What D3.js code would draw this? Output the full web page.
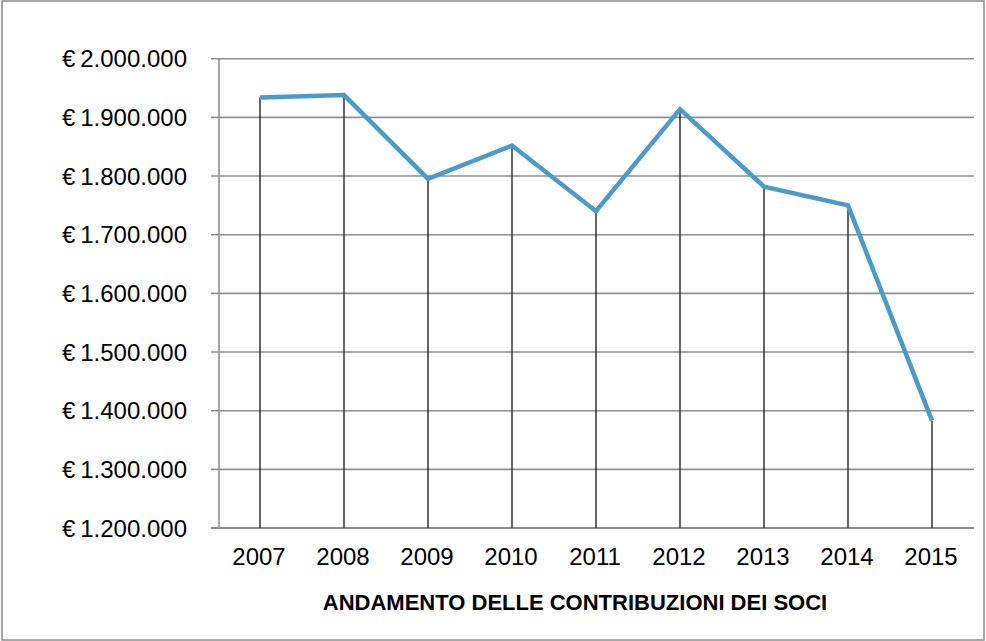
<!DOCTYPE html>
<html>
<head>
<meta charset="utf-8">
<script src="https://cdn.jsdelivr.net/npm/d3@7"></script>
<style>
  html, body { margin: 0; padding: 0; background: #fff; }
  svg { display: block; font-family: 'Liberation Sans', Arial, sans-serif; }
</style>
</head>
<body>
<svg id="chart" width="986" height="641"></svg>
<script>
const years = ['2007', '2008', '2009', '2010', '2011', '2012', '2013', '2014', '2015'];
const contributions = [1934000, 1938000, 1795000, 1852000, 1740000, 1914000, 1782000, 1750000, 1383000];
const yTicks = [1200000, 1300000, 1400000, 1500000, 1600000, 1700000, 1800000, 1900000, 2000000];
const title = 'ANDAMENTO DELLE CONTRIBUZIONI DEI SOCI';

const data = years.map((y, i) => ({ year: y, value: contributions[i] }));

const svg = d3.select('#chart');
const width = 986;
const height = 641;

const margin = { top: 58.7, right: 12, bottom: 113, left: 218 };

const x = d3.scaleBand().domain(years).range([margin.left, width - margin.right]).padding(0);
const y = d3.scaleLinear().domain([1200000, 2000000]).range([height - margin.bottom, margin.top]);

const it = d3.formatLocale({ decimal: ',', thousands: '.', grouping: [3], currency: ['€\u2009', ''] });
const fmt = it.format('$,');

// outer frame
svg.append('rect')
  .attr('x', 2).attr('y', 1)
  .attr('width', width - 4).attr('height', height - 2)
  .attr('fill', 'none')
  .attr('stroke', '#8a8a8a')
  .attr('stroke-width', 1.5);

// gridlines + left ticks
svg.append('g')
  .selectAll('line')
  .data(yTicks)
  .enter()
  .append('line')
  .attr('x1', margin.left - 7)
  .attr('x2', width - margin.right)
  .attr('y1', (d) => y(d))
  .attr('y2', (d) => y(d))
  .attr('stroke', '#8f8f8f')
  .attr('stroke-width', (d) => (d === 1200000 ? 2 : 1.6));

// y axis line
svg.append('line')
  .attr('x1', margin.left + 1).attr('x2', margin.left + 1)
  .attr('y1', y(2000000)).attr('y2', y(1200000))
  .attr('stroke', '#8f8f8f')
  .attr('stroke-width', 1.6);

// y labels
svg.append('g')
  .selectAll('text')
  .data(yTicks)
  .enter()
  .append('text')
  .attr('x', 187)
  .attr('y', (d) => y(d) + 8.6)
  .attr('text-anchor', 'end')
  .attr('font-size', '24px')
  .attr('fill', '#000')
  .text((d) => fmt(d));

// drop lines
svg.append('g')
  .selectAll('line')
  .data(data)
  .enter()
  .append('line')
  .attr('x1', (d) => x(d.year) + x.bandwidth() / 2)
  .attr('x2', (d) => x(d.year) + x.bandwidth() / 2)
  .attr('y1', (d) => y(d.value))
  .attr('y2', y(1200000))
  .attr('stroke', '#111')
  .attr('stroke-width', 1.3);

// series line
const line = d3.line()
  .x((d) => x(d.year) + x.bandwidth() / 2)
  .y((d) => y(d.value));

svg.append('path')
  .datum(data)
  .attr('d', line)
  .attr('fill', 'none')
  .attr('stroke', '#4a9bc9')
  .attr('stroke-width', 4.5)
  .attr('stroke-linejoin', 'miter');

// x labels
svg.append('g')
  .selectAll('text')
  .data(years)
  .enter()
  .append('text')
  .attr('x', (d) => x(d) + x.bandwidth() / 2 - 1)
  .attr('y', 565)
  .attr('text-anchor', 'middle')
  .attr('font-size', '24px')
  .attr('fill', '#000')
  .text((d) => d);

// axis title
svg.append('text')
  .attr('x', 575)
  .attr('y', 609.5)
  .attr('text-anchor', 'middle')
  .attr('font-size', '22px')
  .attr('font-weight', 'bold')
  .attr('fill', '#000')
  .text(title);
</script>
</body>
</html>
